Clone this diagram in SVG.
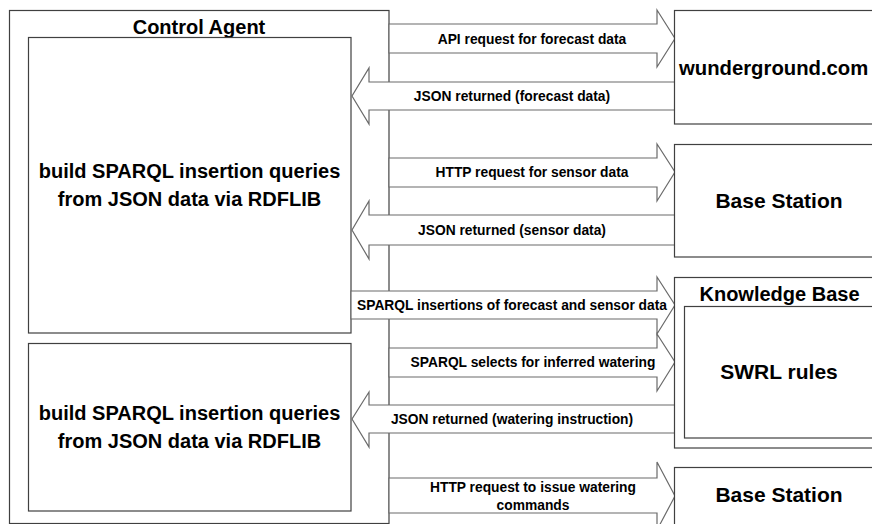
<svg xmlns="http://www.w3.org/2000/svg" width="872" height="524" viewBox="0 0 872 524">
<style>
.box{fill:#fff;stroke:#404040;stroke-width:1.2}
.arr{fill:#fff;stroke:#6a6a6a;stroke-width:1.2}
text{font-family:"Liberation Sans",Arial,sans-serif;font-weight:bold;fill:#000}
.lbl{font-size:13.8px;text-anchor:middle}
.big{font-size:20px;text-anchor:middle}
.ttl{font-size:21px;text-anchor:middle}
</style>
<rect width="872" height="524" fill="#fff"/>
<g id="control-agent">
<rect class="box" x="9.5" y="10.5" width="379.5" height="513"/>
<text class="big" x="199" y="34">Control Agent</text>
</g>
<g id="build-1">
<rect class="box" x="28.5" y="37.5" width="322.5" height="295.5"/>
<text class="big" x="189.5" y="178">build SPARQL insertion queries</text>
<text class="big" x="189.5" y="206">from JSON data via RDFLIB</text>
</g>
<g id="build-2">
<rect class="box" x="28.5" y="343.5" width="322.5" height="167.5"/>
<text class="big" x="189.5" y="420">build SPARQL insertion queries</text>
<text class="big" x="189.5" y="448">from JSON data via RDFLIB</text>
</g>
<g id="connectors">
<polygon class="arr" points="389,24 657,24 657,10 675,38.5 657,67 657,53 389,53"/>
<text class="lbl" x="532" y="44">API request for forecast data</text>
<polygon class="arr" points="675,82 369,82 369,68 352,96 369,124 369,110 675,110"/>
<text class="lbl" x="512" y="101">JSON returned (forecast data)</text>
<polygon class="arr" points="389,158 657,158 657,144 675,172 657,201 657,187 389,187"/>
<text class="lbl" x="532" y="177">HTTP request for sensor data</text>
<polygon class="arr" points="675,215 369,215 369,201 352,230 369,259 369,245 675,245"/>
<text class="lbl" x="512" y="235">JSON returned (sensor data)</text>
<polygon class="arr" points="351,291 657,291 657,277 675,305 657,334 657,319 351,319"/>
<text class="lbl" x="512" y="310">SPARQL insertions of forecast and sensor data</text>
<polygon class="arr" points="389,348 657,348 657,334 675,362 657,391 657,377 389,377"/>
<text class="lbl" x="533" y="367">SPARQL selects for inferred watering</text>
<polygon class="arr" points="675,405 369,405 369,392 352,419 369,447 369,433 675,433"/>
<text class="lbl" x="512" y="424">JSON returned (watering instruction)</text>
<polygon class="arr" points="389,478 657,478 657,462 675,496 657,530 657,513 389,513"/>
<text class="lbl" x="533" y="492">HTTP request to issue watering</text>
<text class="lbl" x="533" y="510">commands</text>
</g>
<g id="wunderground">
<rect class="box" x="674.5" y="10.5" width="210" height="113.5"/>
<text x="679" y="75" style="font-size:20.3px">wunderground.com</text>
</g>
<g id="base-station-1">
<rect class="box" x="674.5" y="144.5" width="210" height="112.5"/>
<text class="ttl" x="779" y="208">Base Station</text>
</g>
<g id="knowledge-base">
<rect class="box" x="674.5" y="277.5" width="210" height="170.5"/>
<text class="big" x="779.5" y="301">Knowledge Base</text>
<g id="swrl-rules">
<rect class="box" x="684.5" y="306.5" width="200" height="131.5"/>
<text class="ttl" x="779" y="379">SWRL rules</text>
</g>
</g>
<g id="base-station-2">
<rect class="box" x="674.5" y="467.5" width="210" height="70"/>
<text class="ttl" x="779" y="502">Base Station</text>
</g>
</svg>
